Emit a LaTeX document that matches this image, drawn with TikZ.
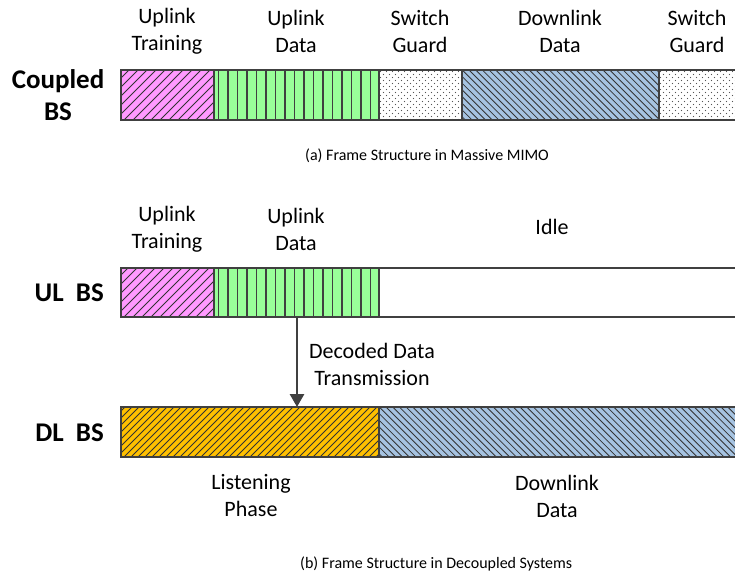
\documentclass[tikz,border=0pt]{standalone}
\usepackage{fontspec}
\setmainfont{Carlito}
\usetikzlibrary{arrows.meta}
\definecolor{bordercol}{HTML}{404040}
\definecolor{hatchcol}{HTML}{333333}
\definecolor{pinkfill}{HTML}{FF99FF}
\definecolor{greenfill}{HTML}{99FF99}
\definecolor{bluefill}{HTML}{A6C3E1}
\definecolor{orangefill}{HTML}{FFC000}
\definecolor{dotcol}{HTML}{555555}
\tikzset{
  seg/.style={draw=bordercol, line width=1.2pt, inner sep=0pt, outer sep=0pt,
    minimum height=50pt, anchor=north west},
  hatchline/.style={draw=hatchcol, line width=0.8pt},
  hatchNE/.style={path picture={\foreach \i in {0,...,90}{\draw[hatchline] ([xshift={\i*#1-60}]path picture bounding box.south west) -- ++(70pt,70pt);}}},
  hatchNW/.style={path picture={\foreach \i in {0,...,90}{\draw[hatchline] ([xshift={\i*#1-60}]path picture bounding box.north west) -- ++(70pt,-70pt);}}},
  dotted area/.style={path picture={\foreach \i in {0,...,14}{\foreach \j in {0,...,16}{\fill[dotcol] ([xshift={\i*6+1.5+mod(\j,2)*3},yshift={-\j*3-1.5}]path picture bounding box.north west) circle (0.55pt);}}}},
  stripes/.style={path picture={\foreach \i in {0,...,16}{\draw[draw=bordercol, line width=1.6pt] ([xshift={4.3+\i*9.5}]path picture bounding box.south west) -- ++(0pt,60pt);}}},
  lbl/.style={font=\fontsize{22}{27}\selectfont, align=center, inner sep=0pt},
  side/.style={font=\fontsize{27}{32}\selectfont\bfseries, align=center, inner sep=0pt},
  capt/.style={font=\fontsize{16}{19}\selectfont, inner sep=0pt, anchor=base west},
  arr/.style={draw=bordercol, line width=2.8pt, -{Triangle[width=14pt,length=13pt]}}
}
\begin{document}
\begin{tikzpicture}[x=1pt,y=-1pt]
\clip (0,0) rectangle (735,576);
\fill[white] (0,0) rectangle (735,576);
% (a) coupled
\node[seg, fill=pinkfill, hatchNE=9, minimum width=93pt] (cp) at (121,70) {};
\node[seg, fill=greenfill, stripes, minimum width=165pt] (cg) at (214,70) {};
\node[seg, fill=white, dotted area, minimum width=83pt] (cd1) at (379,70) {};
\node[seg, fill=bluefill, hatchNW=6.7, minimum width=197pt] (cb) at (462,70) {};
\node[seg, fill=white, dotted area, minimum width=85pt] (cd2) at (659,70) {};
\node[side] (coupled) at (58,95) {Coupled\\BS};
\node[lbl] (l1) at (167,31) {Uplink\\Training};
\node[lbl] (l2) at (296,31) {Uplink\\Data};
\node[lbl] (l3) at (420,31) {Switch\\Guard};
\node[lbl] (l4) at (560,31) {Downlink\\Data};
\node[lbl] (l5) at (697,31) {Switch\\Guard};
\node[capt] (capa) at (305,160) {(a) Frame Structure in Massive MIMO};
% (b) decoupled
\node[seg, fill=pinkfill, hatchNE=9, minimum width=93pt, minimum height=49pt] (up) at (121,268) {};
\node[seg, fill=greenfill, stripes, minimum width=165pt, minimum height=49pt] (ug) at (214,268) {};
\node[seg, fill=white, minimum width=370pt, minimum height=49pt] (ui) at (379,268) {};
\node[seg, fill=orangefill, hatchNE=7, minimum width=258pt] (dl) at (121,407) {};
\node[seg, fill=bluefill, hatchNW=6.7, minimum width=370pt] (db) at (379,407) {};
\node[side, anchor=base east] (ulbs) at (104,301) {UL\ \ BS};
\node[side, anchor=base east] (dlbs) at (104,441) {DL\ \ BS};
\node[lbl] (m1) at (167,229) {Uplink\\Training};
\node[lbl] (m2) at (296,229) {Uplink\\Data};
\node[lbl] (m3) at (552,227) {Idle};
\node[lbl] (dec) at (372,364) {Decoded Data\\Transmission};
\node[lbl] (n1) at (251,496) {Listening\\Phase};
\node[lbl] (n2) at (557,496) {Downlink\\Data};
\coordinate (ax) at (297,0);
\draw[arr] (ax |- ug.south) -- (ax |- dl.north);
\node[capt] (capb) at (300,568) {(b) Frame Structure in Decoupled Systems};
\end{tikzpicture}
\end{document}
